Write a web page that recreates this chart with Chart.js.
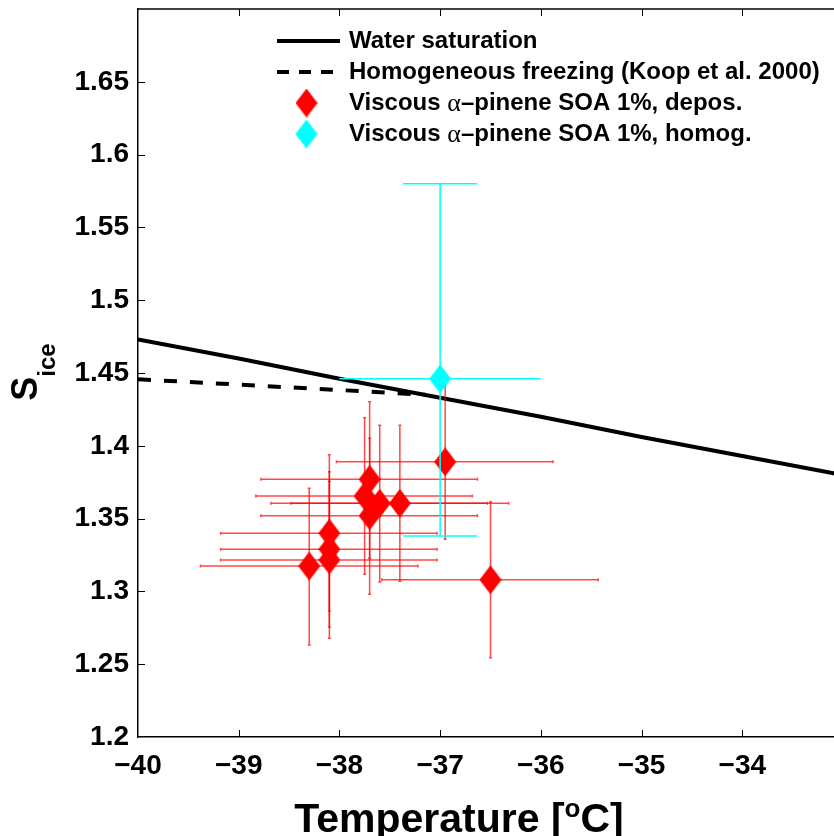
<!DOCTYPE html>
<html>
<head>
<meta charset="utf-8">
<script src="https://cdn.jsdelivr.net/npm/chart.js@4.4.1/dist/chart.umd.min.js"></script>
<style>
    html, body { margin: 0; padding: 0; background: #fff; overflow: hidden; }
    #wrap { width: 834px; height: 836px; overflow: hidden; }
</style>
</head>
<body>
<div id="wrap"><canvas id="SiceChart" width="843" height="836"></canvas></div>
<script>
// water saturation with respect to ice
var satTemps = [-40, -39, -38, -37, -36, -35, -34, -33];
var satSice = [1.473, 1.460, 1.446, 1.433, 1.420, 1.406, 1.393, 1.380];

// homogeneous freezing limit (Koop et al. 2000)
var koopTemps = [-40, -39, -38, -37.15];
var koopSice = [1.4457, 1.4420, 1.4383, 1.4351];

// viscous a-pinene SOA 1%, deposition mode
var deposTemp = [-36.95, -37.70, -37.75, -37.60, -37.40, -37.70, -38.10, -38.10, -38.10, -38.30, -36.50];
var deposSice = [1.389, 1.377, 1.3655, 1.3605, 1.3605, 1.352, 1.340, 1.329, 1.3216, 1.3174, 1.308];
var deposTempLo = [-38.03, -38.78, -38.83, -38.68, -38.48, -38.78, -39.18, -39.18, -39.18, -39.38, -37.58];
var deposTempHi = [-35.88, -36.63, -36.68, -36.53, -36.32, -36.63, -37.03, -37.03, -37.03, -37.22, -35.43];
var deposSiceLo = [1.3358, 1.3227, 1.3117, 1.3065, 1.3069, 1.2980, 1.2865, 1.2753, 1.2678, 1.2632, 1.2545];
var deposSiceHi = [1.4424, 1.4303, 1.4193, 1.4141, 1.4141, 1.4051, 1.3939, 1.3822, 1.3756, 1.3708, 1.3616];

// viscous a-pinene SOA 1%, homogeneous mode
var homogTemp = [-37.0];
var homogSice = [1.446];
var homogTempLo = [-38.0];
var homogTempHi = [-36.0];
var homogSiceLo = [1.338];
var homogSiceHi = [1.580];

var xTicks = [-40, -39, -38, -37, -36, -35, -34];
var xTickLabels = ['\u221240', '\u221239', '\u221238', '\u221237', '\u221236', '\u221235', '\u221234'];
var yTicks = [1.2, 1.25, 1.3, 1.35, 1.4, 1.45, 1.5, 1.55, 1.6, 1.65];
var yTickLabels = ['1.2', '1.25', '1.3', '1.35', '1.4', '1.45', '1.5', '1.55', '1.6', '1.65'];

var FONT = '"Liberation Sans", Arial, Helvetica, sans-serif';
var RED = '#ff0000';
var CYAN = '#00ffff';

function toPoints(xs, ys) {
    var pts = [];
    for (var i = 0; i < xs.length; i++) pts.push({ x: xs[i], y: ys[i] });
    return pts;
}

// tall diamond marker
function makeDiamond(color) {
    var c = document.createElement('canvas');
    c.width = 22;
    c.height = 29;
    var g = c.getContext('2d');
    g.fillStyle = color;
    g.beginPath();
    g.moveTo(11, 0);
    g.lineTo(22, 14.5);
    g.lineTo(11, 29);
    g.lineTo(0, 14.5);
    g.closePath();
    g.fill();
    return c;
}
var redDiamond = makeDiamond(RED);
var cyanDiamond = makeDiamond(CYAN);

var errorBarPlugin = {
    id: 'errorBars',
    beforeDatasetDraw: function (chart, args) {
        var ds = chart.data.datasets[args.index];
        if (!ds.errorBars) return;
        var eb = ds.errorBars;
        var xs = chart.scales.x, ys = chart.scales.y;
        var ctx = chart.ctx;
        ctx.save();
        ctx.strokeStyle = eb.color;
        ctx.lineWidth = eb.width;
        for (var i = 0; i < ds.data.length; i++) {
            var px = xs.getPixelForValue(ds.data[i].x);
            var py = ys.getPixelForValue(ds.data[i].y);
            var xl = xs.getPixelForValue(eb.xLo[i]), xh = xs.getPixelForValue(eb.xHi[i]);
            var yl = ys.getPixelForValue(eb.yLo[i]), yh = ys.getPixelForValue(eb.yHi[i]);
            ctx.beginPath();
            ctx.moveTo(xl, py); ctx.lineTo(xh, py);
            ctx.moveTo(px, yl); ctx.lineTo(px, yh);
            // caps
            ctx.moveTo(px - eb.yCap, yl); ctx.lineTo(px + eb.yCap, yl);
            ctx.moveTo(px - eb.yCap, yh); ctx.lineTo(px + eb.yCap, yh);
            if (eb.xCap > 0) {
                ctx.moveTo(xl, py - eb.xCap); ctx.lineTo(xl, py + eb.xCap);
                ctx.moveTo(xh, py - eb.xCap); ctx.lineTo(xh, py + eb.xCap);
            }
            ctx.stroke();
        }
        ctx.restore();
    }
};

// box top edge and inward tick marks
var frameTicksPlugin = {
    id: 'frameTicks',
    afterDraw: function (chart) {
        var ctx = chart.ctx, a = chart.chartArea;
        var xs = chart.scales.x, ys = chart.scales.y;
        ctx.save();
        ctx.strokeStyle = '#000';
        ctx.lineWidth = 1.5;
        ctx.beginPath();
        ctx.moveTo(a.left, a.top);
        ctx.lineTo(a.right, a.top);
        ctx.stroke();
        ctx.lineWidth = 1;
        ctx.beginPath();
        xTicks.forEach(function (v) {
            var p = Math.round(xs.getPixelForValue(v)) + 0.5;
            if (p <= a.left + 1) return;
            ctx.moveTo(p, a.bottom); ctx.lineTo(p, a.bottom - 7);
            ctx.moveTo(p, a.top); ctx.lineTo(p, a.top + 7);
        });
        yTicks.forEach(function (v) {
            var p = Math.round(ys.getPixelForValue(v)) + 0.5;
            if (p >= a.bottom - 1) return;
            ctx.moveTo(a.left, p); ctx.lineTo(a.left + 7, p);
        });
        ctx.stroke();
        ctx.restore();
    }
};

var axisTitlePlugin = {
    id: 'axisTitles',
    afterDraw: function (chart) {
        var ctx = chart.ctx, a = chart.chartArea;
        ctx.save();
        ctx.fillStyle = '#000';
        ctx.textBaseline = 'alphabetic';
        ctx.textAlign = 'left';

        // Temperature [oC]
        var big = 'bold 41px ' + FONT, sup = 'bold 26px ' + FONT;
        ctx.font = big;
        var t1 = 'Temperature [', t3 = 'C]';
        var w1 = ctx.measureText(t1).width, w3 = ctx.measureText(t3).width;
        ctx.font = sup;
        var w2 = ctx.measureText('o').width;
        var x0 = a.left + 321 - (w1 + w2 + w3) / 2;
        var base = 832;
        ctx.font = big;
        ctx.fillText(t1, x0, base);
        ctx.font = sup;
        ctx.fillText('o', x0 + w1, base - 15);
        ctx.font = big;
        ctx.fillText(t3, x0 + w1 + w2, base);

        // S_ice
        var cy = (a.top + a.bottom) / 2 - 1;
        ctx.translate(37, cy);
        ctx.rotate(-Math.PI / 2);
        ctx.font = 'bold 36px ' + FONT;
        var ws = ctx.measureText('S').width;
        ctx.font = 'bold 24px ' + FONT;
        var wi = ctx.measureText('ice').width;
        var sx = -(ws + wi) / 2;
        ctx.font = 'bold 36px ' + FONT;
        ctx.fillText('S', sx, 0);
        ctx.font = 'bold 24px ' + FONT;
        ctx.fillText('ice', sx + ws, 18);
        ctx.restore();
    }
};

// legend in the upper part of the axes
var legendPlugin = {
    id: 'sampleLegend',
    afterDraw: function (chart) {
        var ctx = chart.ctx, a = chart.chartArea;
        var x0 = a.left + 139, x1 = a.left + 202, xt = a.left + 211;
        var sets = chart.data.datasets.slice().sort(function (p, q) { return p.legendRank - q.legendRank; });
        ctx.save();
        sets.forEach(function (ds, i) {
            var y = a.top + 32 + i * 31;
            if (ds.type === 'line') {
                ctx.strokeStyle = ds.borderColor;
                ctx.lineWidth = ds.borderWidth;
                ctx.setLineDash(ds.legendDash || []);
                ctx.beginPath();
                ctx.moveTo(x0, y);
                ctx.lineTo(x1, y);
                ctx.stroke();
                ctx.setLineDash([]);
            } else {
                var img = ds.pointStyle;
                ctx.drawImage(img, (x0 + x1) / 2 - img.width / 2 - 2, y - img.height / 2);
            }
            // the alpha uses a serif face, the rest bold sans
            var parts = ds.label.split('\u03b1');
            var x = xt;
            ctx.fillStyle = '#000';
            ctx.textBaseline = 'middle';
            for (var k = 0; k < parts.length; k++) {
                ctx.font = 'bold 24px ' + FONT;
                ctx.fillText(parts[k], x, y);
                x += ctx.measureText(parts[k]).width;
                if (k < parts.length - 1) {
                    ctx.font = '26px "Liberation Serif", "DejaVu Serif", serif';
                    ctx.fillText('\u03b1', x, y + 1);
                    x += ctx.measureText('\u03b1').width;
                }
            }
        });
        ctx.restore();
    }
};

var config_Sice = {
    type: 'scatter',
    data: {
        datasets: [
            {
                type: 'line',
                label: 'Water saturation',
                legendRank: 0,
                data: toPoints(satTemps, satSice),
                borderColor: '#000',
                borderWidth: 4,
                pointRadius: 0,
                fill: false,
                order: 3
            },
            {
                type: 'line',
                label: 'Homogeneous freezing (Koop et al. 2000)',
                legendRank: 1,
                data: toPoints(koopTemps, koopSice),
                borderColor: '#000',
                borderWidth: 4,
                borderDash: [13, 13],
                legendDash: [12, 10],
                pointRadius: 0,
                fill: false,
                order: 2
            },
            {
                label: 'Viscous \u03b1\u2013pinene SOA 1%, depos.',
                legendRank: 2,
                data: toPoints(deposTemp, deposSice),
                pointStyle: redDiamond,
                pointRadius: 11,
                errorBars: { xLo: deposTempLo, xHi: deposTempHi, yLo: deposSiceLo, yHi: deposSiceHi,
                             color: 'rgba(255, 0, 0, 0.72)', width: 1.5, yCap: 1.5, xCap: 1.5 },
                order: 1
            },
            {
                label: 'Viscous \u03b1\u2013pinene SOA 1%, homog.',
                legendRank: 3,
                data: toPoints(homogTemp, homogSice),
                pointStyle: cyanDiamond,
                pointRadius: 11,
                errorBars: { xLo: homogTempLo, xHi: homogTempHi, yLo: homogSiceLo, yHi: homogSiceHi,
                             color: CYAN, width: 1.5, yCap: 37, xCap: 0 },
                order: 0
            }
        ]
    },
    options: {
        responsive: false,
        animation: false,
        events: [],
        layout: { autoPadding: false, padding: { top: 9, left: 0, right: 0, bottom: 0 } },
        plugins: {
            legend: { display: false },
            tooltip: { enabled: false }
        },
        scales: {
            x: {
                type: 'linear',
                min: -40,
                max: -33,
                afterBuildTicks: function (scale) {
                    scale.ticks = xTicks.map(function (v) { return { value: v }; });
                },
                afterFit: function (scale) {
                    scale.height = 99;
                    scale.paddingLeft = 0;
                    scale.paddingRight = 0;
                },
                grid: { display: false, drawTicks: false },
                border: { display: true, color: '#000', width: 1.5 },
                ticks: {
                    autoSkip: false,
                    maxRotation: 0,
                    padding: 12,
                    color: '#000',
                    font: { family: FONT, size: 28, weight: 'bold' },
                    callback: function (v, i) { return xTickLabels[i]; }
                }
            },
            y: {
                type: 'linear',
                min: 1.2,
                max: 1.7,
                afterBuildTicks: function (scale) {
                    scale.ticks = yTicks.map(function (v) { return { value: v }; });
                },
                afterFit: function (scale) {
                    scale.width = 138;
                    scale.paddingTop = 0;
                    scale.paddingBottom = 0;
                },
                grid: { display: false, drawTicks: false },
                border: { display: true, color: '#000', width: 1.5 },
                ticks: {
                    autoSkip: false,
                    padding: 9,
                    color: '#000',
                    font: { family: FONT, size: 28, weight: 'bold' },
                    callback: function (v, i) { return yTickLabels[i]; }
                }
            }
        }
    },
    plugins: [errorBarPlugin, frameTicksPlugin, axisTitlePlugin, legendPlugin]
};

var SiceChartElement = document.getElementById('SiceChart').getContext('2d');
new Chart(SiceChartElement, config_Sice);
</script>
</body>
</html>
